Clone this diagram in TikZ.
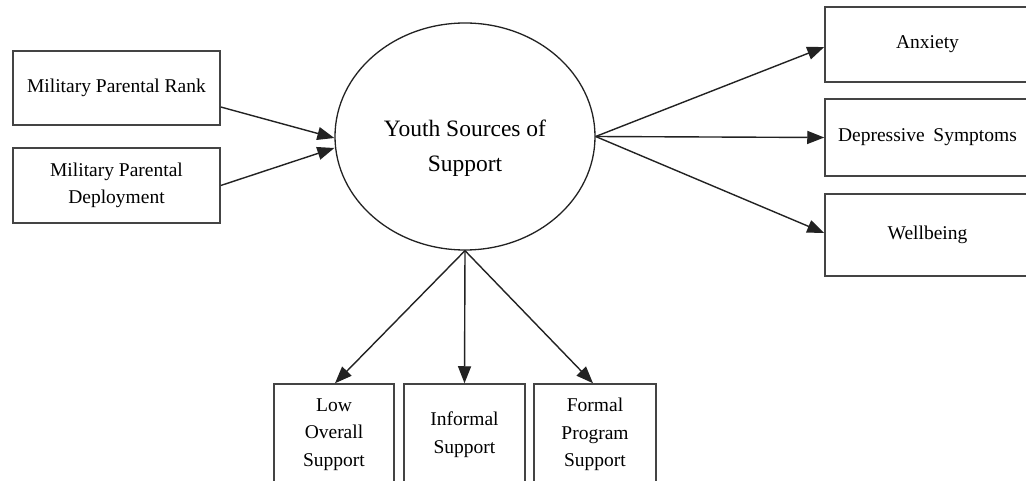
\documentclass[tikz,border=0pt]{standalone}
\usepackage{fontspec}
\setmainfont{Liberation Serif}
\usetikzlibrary{shapes.geometric,arrows.meta}
\definecolor{linecol}{HTML}{222222}
\definecolor{boxcol}{HTML}{444444}
\begin{document}
\begin{tikzpicture}[x=1pt,y=-1pt,
  boxnode/.style={draw=boxcol,line width=1.5pt,rectangle,inner sep=0pt,align=center,
    font=\fontsize{19.5pt}{27.5pt}\selectfont},
  conn/.style={draw=linecol,line width=1.4pt,-{Triangle[length=17pt,width=13pt]}}]
\clip (0,0) rectangle (1026,481);
\fill[white] (0,0) rectangle (1026,481);
% left
\node[boxnode,minimum width=207pt,minimum height=74pt] (mpr) at (116.5,88) {Military Parental Rank};
\node[boxnode,minimum width=207pt,minimum height=75pt] (mpd) at (116.5,185.5) {Military Parental\\Deployment};
% ellipse
\node[ellipse,draw=linecol,line width=1.3pt,minimum width=260pt,minimum height=227pt,inner sep=0pt] (yss) at (465,136.5) {};
\node[align=center,font=\fontsize{23.5pt}{35pt}\selectfont] (yssl) at ([yshift=-11.5pt]yss.center) {Youth Sources of\\Support};
% right
\node[boxnode,minimum width=205pt,minimum height=75pt] (anx) at (927.5,44.5) {Anxiety};
\node[boxnode,minimum width=205pt,minimum height=77pt] (dep) at (927.5,137.5) {Depressive\hspace{0.45em}Symptoms};
\node[boxnode,minimum width=205pt,minimum height=82pt] (wel) at (927.5,235) {Wellbeing};
% bottom
\node[boxnode,minimum width=120pt,minimum height=101pt] (low) at (334,434.5) {Low\\Overall\\Support};
\node[boxnode,minimum width=121pt,minimum height=101pt] (inf) at (464.5,434.5) {Informal\\Support};
\node[boxnode,minimum width=122pt,minimum height=101pt] (frm) at (595,434.5) {Formal\\Program\\Support};
% connectors
\draw[conn] ([yshift=-19pt]mpr.east) -- ([yshift=-1.5pt]yss.west);
\draw[conn] (mpd.east) -- ([yshift=-11.5pt]yss.west);
\draw[conn] (yss.east) -- ([yshift=-2.5pt]anx.west);
\draw[conn] (yss.east) -- (dep.west);
\draw[conn] (yss.east) -- ([yshift=2pt]wel.west);
\draw[conn] (yss.south) -- ([xshift=1pt]low.north);
\draw[conn] (yss.south) -- (inf.north);
\draw[conn] (yss.south) -- ([xshift=-2pt]frm.north);
\end{tikzpicture}
\end{document}
